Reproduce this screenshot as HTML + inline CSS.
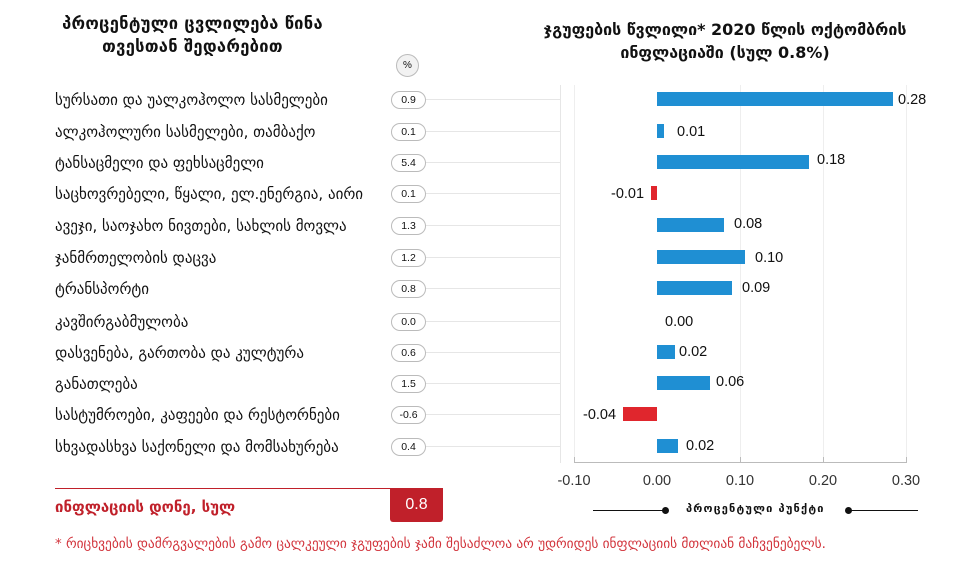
<!DOCTYPE html><html><head><meta charset="utf-8"><style>
body{margin:0;width:978px;height:564px;background:#fff;position:relative;overflow:hidden;font-family:"DejaVu Sans","Liberation Sans",sans-serif;color:#111}
.a{position:absolute}
.lab{position:absolute;left:55px;font-size:15px;white-space:nowrap;margin-top:0px}
.pill{position:absolute;left:391px;width:33px;height:16px;border:1px solid #bbb;border-radius:9px;font-size:10.5px;text-align:center;line-height:16px;font-family:"Liberation Sans",sans-serif;background:#fff}
.ln{position:absolute;left:425px;width:135px;height:1px;background:#e6e6e6}
.bar{position:absolute;height:14px}
.v{position:absolute;font-size:14.5px;font-family:"Liberation Sans",sans-serif;margin-top:1px}
.t{position:absolute;top:473px;font-size:14.5px;font-family:"Liberation Sans",sans-serif;color:#333;width:50px;text-align:center}
.g{position:absolute;top:85px;width:1px;height:378px;background:#eee}
</style></head><body>
<div class="a" style="left:20px;top:12px;width:345px;text-align:center;font-weight:bold;font-size:16.5px;line-height:23px;letter-spacing:0.3px">პროცენტული ცვლილება წინა<br>თვესთან შედარებით</div>
<div class="a" style="left:500px;top:18px;width:450px;text-align:center;font-weight:bold;font-size:16px;line-height:23px">ჯგუფების წვლილი* 2020 წლის ოქტომბრის<br>ინფლაციაში (სულ 0.8%)</div>
<div class="a" style="left:396px;top:54px;width:21px;height:21px;border-radius:50%;border:1px solid #bbb;background:#f2f2f2;font-size:10px;text-align:center;line-height:21px;font-family:'Liberation Sans',sans-serif">%</div>
<div class="a" style="left:560px;top:85px;width:1px;height:378px;background:#e6e6e6"></div>
<div class="g" style="left:574px"></div><div class="g" style="left:740px"></div><div class="g" style="left:823px"></div><div class="g" style="left:906px"></div>
<div class="a" style="left:574px;top:462px;width:332px;height:1px;background:#bbb"></div>
<div class="a" style="left:574px;top:457px;width:1px;height:6px;background:#bbb"></div>
<div class="a" style="left:740px;top:457px;width:1px;height:6px;background:#bbb"></div>
<div class="a" style="left:823px;top:457px;width:1px;height:6px;background:#bbb"></div>
<div class="a" style="left:906px;top:457px;width:1px;height:6px;background:#bbb"></div>
<div class="t" style="left:549px">-0.10</div><div class="t" style="left:632px">0.00</div><div class="t" style="left:715px">0.10</div><div class="t" style="left:798px">0.20</div><div class="t" style="left:881px">0.30</div>
<div class="a" style="left:593px;top:510px;width:72px;height:1px;background:#111"></div>
<div class="a" style="left:662px;top:507px;width:7px;height:7px;border-radius:50%;background:#111"></div>
<div class="a" style="left:845px;top:507px;width:7px;height:7px;border-radius:50%;background:#111"></div>
<div class="a" style="left:848px;top:510px;width:70px;height:1px;background:#111"></div>
<div class="a" style="left:686px;top:502px;font-size:11px;letter-spacing:1.2px;font-weight:bold;white-space:nowrap">პროცენტული პუნქტი</div>

<div class="lab" style="top:91px">სურსათი და უალკოჰოლო სასმელები</div><div class="ln" style="top:99px"></div><div class="pill" style="top:91px">0.9</div>
<div class="bar" style="left:657px;top:92px;width:236px;background:#1f8fd3"></div><div class="v" style="left:898px;top:91px">0.28</div>
<div class="lab" style="top:123px">ალკოჰოლური სასმელები, თამბაქო</div><div class="ln" style="top:131px"></div><div class="pill" style="top:123px">0.1</div>
<div class="bar" style="left:657px;top:124px;width:7px;background:#1f8fd3"></div><div class="v" style="left:677px;top:123px">0.01</div>
<div class="lab" style="top:154px">ტანსაცმელი და ფეხსაცმელი</div><div class="ln" style="top:162px"></div><div class="pill" style="top:154px">5.4</div>
<div class="bar" style="left:657px;top:155px;width:152px;background:#1f8fd3"></div><div class="v" style="left:817px;top:151px">0.18</div>
<div class="lab" style="top:185px">საცხოვრებელი, წყალი, ელ.ენერგია, აირი</div><div class="ln" style="top:193px"></div><div class="pill" style="top:185px">0.1</div>
<div class="bar" style="left:651px;top:186px;width:6px;background:#e0262d"></div><div class="v" style="left:611px;top:185px">-0.01</div>
<div class="lab" style="top:217px">ავეჯი, საოჯახო ნივთები, სახლის მოვლა</div><div class="ln" style="top:225px"></div><div class="pill" style="top:217px">1.3</div>
<div class="bar" style="left:657px;top:218px;width:67px;background:#1f8fd3"></div><div class="v" style="left:734px;top:215px">0.08</div>
<div class="lab" style="top:249px">ჯანმრთელობის დაცვა</div><div class="ln" style="top:257px"></div><div class="pill" style="top:249px">1.2</div>
<div class="bar" style="left:657px;top:250px;width:88px;background:#1f8fd3"></div><div class="v" style="left:755px;top:249px">0.10</div>
<div class="lab" style="top:280px">ტრანსპორტი</div><div class="ln" style="top:288px"></div><div class="pill" style="top:280px">0.8</div>
<div class="bar" style="left:657px;top:281px;width:75px;background:#1f8fd3"></div><div class="v" style="left:742px;top:279px">0.09</div>
<div class="lab" style="top:313px">კავშირგაბმულობა</div><div class="ln" style="top:321px"></div><div class="pill" style="top:313px">0.0</div>
<div class="v" style="left:665px;top:313px">0.00</div>
<div class="lab" style="top:344px">დასვენება, გართობა და კულტურა</div><div class="ln" style="top:352px"></div><div class="pill" style="top:344px">0.6</div>
<div class="bar" style="left:657px;top:345px;width:18px;background:#1f8fd3"></div><div class="v" style="left:679px;top:343px">0.02</div>
<div class="lab" style="top:375px">განათლება</div><div class="ln" style="top:383px"></div><div class="pill" style="top:375px">1.5</div>
<div class="bar" style="left:657px;top:376px;width:53px;background:#1f8fd3"></div><div class="v" style="left:716px;top:373px">0.06</div>
<div class="lab" style="top:406px">სასტუმროები, კაფეები და რესტორნები</div><div class="ln" style="top:414px"></div><div class="pill" style="top:406px">-0.6</div>
<div class="bar" style="left:623px;top:407px;width:34px;background:#e0262d"></div><div class="v" style="left:583px;top:406px">-0.04</div>
<div class="lab" style="top:438px">სხვადასხვა საქონელი და მომსახურება</div><div class="ln" style="top:446px"></div><div class="pill" style="top:438px">0.4</div>
<div class="bar" style="left:657px;top:439px;width:21px;background:#1f8fd3"></div><div class="v" style="left:686px;top:437px">0.02</div>

<div class="a" style="left:55px;top:488px;width:336px;height:1px;background:#c0202a"></div>
<div class="a" style="left:55px;top:498px;font-weight:bold;font-size:15px;color:#c0202a;white-space:nowrap">ინფლაციის დონე, სულ</div>
<div class="a" style="left:390px;top:488px;width:53px;height:34px;background:#c0202a;color:#fff;border-radius:0 0 3px 3px;text-align:center;line-height:34px;font-size:16px;font-family:'Liberation Sans',sans-serif">0.8</div>
<div class="a" style="left:55px;top:537px;font-size:13.4px;color:#d2343c;white-space:nowrap">* რიცხვების დამრგვალების გამო ცალკეული ჯგუფების ჯამი შესაძლოა არ უდრიდეს ინფლაციის მთლიან მაჩვენებელს.</div>
</body></html>
